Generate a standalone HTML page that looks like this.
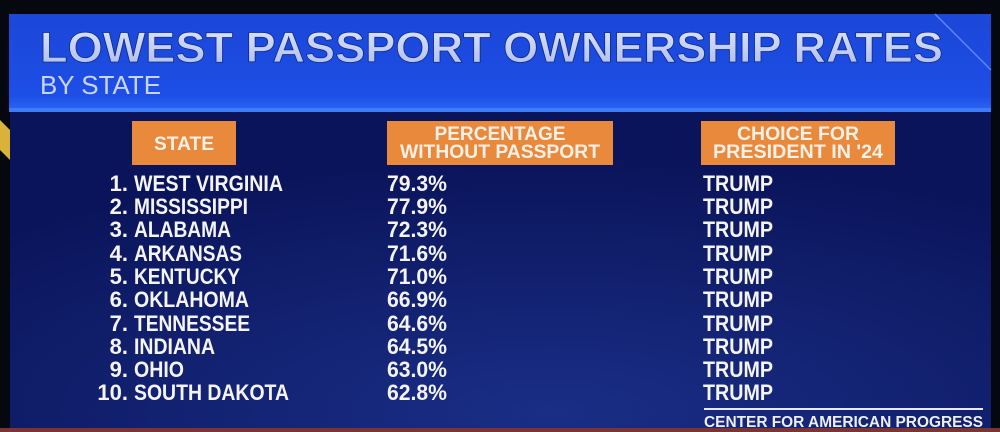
<!DOCTYPE html>
<html><head><meta charset="utf-8"><style>
html,body{margin:0;padding:0;background:#05070f;}
svg{display:block}
text{font-family:"Liberation Sans",sans-serif;font-weight:bold;}
.r{fill:#f4f4f4;font-size:22px;}
</style></head><body>
<svg width="1000" height="432" viewBox="0 0 1000 432" xmlns="http://www.w3.org/2000/svg">
<defs>
<linearGradient id="hb" x1="0" y1="0" x2="0" y2="1">
<stop offset="0" stop-color="#1c47d8"/><stop offset="0.85" stop-color="#1d4ee6"/><stop offset="1" stop-color="#2a66f0"/>
</linearGradient>
<radialGradient id="bd" cx="0.55" cy="0.95" r="0.8">
<stop offset="0" stop-color="#1a2e86"/><stop offset="1" stop-color="#0a145a"/>
</radialGradient>
<linearGradient id="tt" x1="0" y1="0" x2="0" y2="1">
<stop offset="0" stop-color="#dfe6fb"/><stop offset="1" stop-color="#a9b9ee"/>
</linearGradient>
</defs>
<rect width="1000" height="432" fill="#06080f"/>
<polygon points="0,120 10,130 10,160 0,150" fill="#d9b23a"/>
<rect x="9" y="14" width="982" height="96" fill="url(#hb)"/>
<rect x="9" y="108" width="982" height="4" fill="#3f7cf5"/>
<line x1="935" y1="14" x2="991" y2="70" stroke="#5d86f0" stroke-width="1.5"/>
<rect x="10" y="112" width="981" height="316" fill="url(#bd)"/>
<rect x="0" y="428" width="1000" height="4" fill="#7a3434"/>
<text x="40" y="62" font-size="43" fill="url(#tt)" stroke="#0e2a8a" stroke-width="0.8" textLength="903" lengthAdjust="spacingAndGlyphs">LOWEST PASSPORT OWNERSHIP RATES</text>
<text x="40" y="94" font-size="26" fill="#c9d5f8" style="font-weight:normal" textLength="121" lengthAdjust="spacingAndGlyphs">BY STATE</text>
<rect x="132" y="121" width="104" height="44" fill="#e8893b"/>
<rect x="387" y="121" width="226" height="44" fill="#e8893b"/>
<rect x="701" y="121" width="194" height="44" fill="#e8893b"/>
<g fill="#f7f0e6" font-size="19" text-anchor="middle">
<text x="184" y="150" textLength="60" lengthAdjust="spacingAndGlyphs">STATE</text>
<text x="500" y="140" textLength="131" lengthAdjust="spacingAndGlyphs">PERCENTAGE</text>
<text x="500" y="158" textLength="200" lengthAdjust="spacingAndGlyphs">WITHOUT PASSPORT</text>
<text x="798" y="140" textLength="122" lengthAdjust="spacingAndGlyphs">CHOICE FOR</text>
<text x="798" y="158" textLength="170" lengthAdjust="spacingAndGlyphs">PRESIDENT IN '24</text>
</g>
<g class="r">
<g text-anchor="end">
<text x="128" y="191">1.</text><text x="128" y="214">2.</text><text x="128" y="237">3.</text><text x="128" y="261">4.</text><text x="128" y="284">5.</text><text x="128" y="307">6.</text><text x="128" y="331">7.</text><text x="128" y="354">8.</text><text x="128" y="377">9.</text><text x="128" y="400">10.</text>
</g>
<text x="134" y="191" textLength="149" lengthAdjust="spacingAndGlyphs">WEST VIRGINIA</text>
<text x="134" y="214" textLength="114" lengthAdjust="spacingAndGlyphs">MISSISSIPPI</text>
<text x="134" y="237" textLength="97" lengthAdjust="spacingAndGlyphs">ALABAMA</text>
<text x="134" y="261" textLength="108" lengthAdjust="spacingAndGlyphs">ARKANSAS</text>
<text x="134" y="284" textLength="106" lengthAdjust="spacingAndGlyphs">KENTUCKY</text>
<text x="134" y="307" textLength="115" lengthAdjust="spacingAndGlyphs">OKLAHOMA</text>
<text x="134" y="331" textLength="116" lengthAdjust="spacingAndGlyphs">TENNESSEE</text>
<text x="134" y="354" textLength="81" lengthAdjust="spacingAndGlyphs">INDIANA</text>
<text x="134" y="377" textLength="50" lengthAdjust="spacingAndGlyphs">OHIO</text>
<text x="134" y="400" textLength="155" lengthAdjust="spacingAndGlyphs">SOUTH DAKOTA</text>
<g>
<text x="387" y="191" textLength="60" lengthAdjust="spacingAndGlyphs">79.3%</text>
<text x="387" y="214" textLength="60" lengthAdjust="spacingAndGlyphs">77.9%</text>
<text x="387" y="237" textLength="60" lengthAdjust="spacingAndGlyphs">72.3%</text>
<text x="387" y="261" textLength="60" lengthAdjust="spacingAndGlyphs">71.6%</text>
<text x="387" y="284" textLength="60" lengthAdjust="spacingAndGlyphs">71.0%</text>
<text x="387" y="307" textLength="60" lengthAdjust="spacingAndGlyphs">66.9%</text>
<text x="387" y="331" textLength="60" lengthAdjust="spacingAndGlyphs">64.6%</text>
<text x="387" y="354" textLength="60" lengthAdjust="spacingAndGlyphs">64.5%</text>
<text x="387" y="377" textLength="60" lengthAdjust="spacingAndGlyphs">63.0%</text>
<text x="387" y="400" textLength="60" lengthAdjust="spacingAndGlyphs">62.8%</text>
</g>
<g>
<text x="703" y="191" textLength="70" lengthAdjust="spacingAndGlyphs">TRUMP</text>
<text x="703" y="214" textLength="70" lengthAdjust="spacingAndGlyphs">TRUMP</text>
<text x="703" y="237" textLength="70" lengthAdjust="spacingAndGlyphs">TRUMP</text>
<text x="703" y="261" textLength="70" lengthAdjust="spacingAndGlyphs">TRUMP</text>
<text x="703" y="284" textLength="70" lengthAdjust="spacingAndGlyphs">TRUMP</text>
<text x="703" y="307" textLength="70" lengthAdjust="spacingAndGlyphs">TRUMP</text>
<text x="703" y="331" textLength="70" lengthAdjust="spacingAndGlyphs">TRUMP</text>
<text x="703" y="354" textLength="70" lengthAdjust="spacingAndGlyphs">TRUMP</text>
<text x="703" y="377" textLength="70" lengthAdjust="spacingAndGlyphs">TRUMP</text>
<text x="703" y="400" textLength="70" lengthAdjust="spacingAndGlyphs">TRUMP</text>
</g>
</g>
<line x1="704" y1="409" x2="983" y2="409" stroke="#e8e8e8" stroke-width="2"/>
<text x="704" y="427" font-size="16" fill="#eeeeee" textLength="279" lengthAdjust="spacingAndGlyphs">CENTER FOR AMERICAN PROGRESS</text>
</svg>
</body></html>
